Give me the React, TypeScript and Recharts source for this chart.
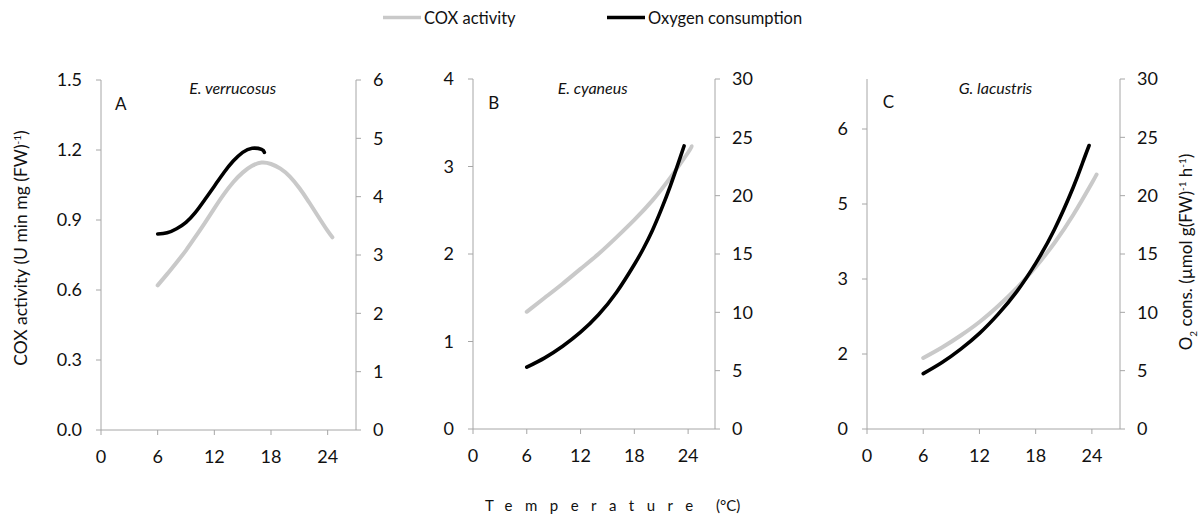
import { LineChart, Line, XAxis, YAxis } from 'recharts'

// Temperature (°C) and fitted values per species
const tempCoxA = [6, 7, 8, 9, 10, 11, 12, 13, 14, 15, 16, 17, 18, 19, 20, 21, 22, 23, 24, 24.5]
const coxA = [0.62, 0.668, 0.718, 0.77, 0.828, 0.888, 0.95, 1.01, 1.062, 1.103, 1.132, 1.146, 1.14, 1.12, 1.086, 1.037, 0.978, 0.915, 0.853, 0.826]
const tempO2A = [6, 7, 8, 9, 10, 11, 12, 13, 14, 15, 16, 17, 17.3]
const o2A = [3.36, 3.38, 3.45, 3.56, 3.73, 3.95, 4.18, 4.41, 4.61, 4.76, 4.83, 4.81, 4.76]

const tempCoxB = [6, 8, 10, 12, 14, 16, 18, 20, 22, 24, 24.4]
const coxB = [1.34, 1.5, 1.66, 1.83, 2.0, 2.19, 2.39, 2.61, 2.87, 3.16, 3.23]
const tempO2B = [6, 8, 10, 12, 14, 16, 18, 19, 20, 21, 22, 23, 23.55]
const o2B = [5.3, 6.1, 7.1, 8.3, 9.8, 11.7, 14.1, 15.45, 17.0, 18.8, 20.8, 23.0, 24.26]

const tempCoxC = [6, 8, 10, 12, 14, 16, 18, 20, 22, 24, 24.5]
const coxC = [1.42, 1.63, 1.87, 2.14, 2.46, 2.82, 3.24, 3.72, 4.28, 4.92, 5.09]
const tempO2C = [6, 8, 10, 12, 14, 16, 18, 20, 22, 23, 23.7]
const o2C = [4.75, 5.7, 6.85, 8.2, 9.85, 11.8, 14.2, 17.1, 20.7, 22.8, 24.3]

const tempTicks = [0, 6, 12, 18, 24]
const coxTicksA = [0, 0.3, 0.6, 0.9, 1.2, 1.5]
const coxTicksB = [0, 1, 2, 3, 4]
const coxTicksC = [0, 1.5, 3, 4.5, 6]
const o2TicksA = [0, 1, 2, 3, 4, 5, 6]
const o2TicksBC = [0, 5, 10, 15, 20, 25, 30]

const species = ['E. verrucosus', 'E. cyaneus', 'G. lacustris']
const panelLetters = ['A', 'B', 'C']

const toRows = (t: number[], v: number[]) => t.map((x, i) => ({ t: x, v: v[i] }))

const FONT = 'Lato, "Open Sans", sans-serif'
const AXIS = '#a6a6a6'
const GREY = '#c9c9c9'

interface PanelProps {
  left: number
  width: number
  margin: { top: number; right: number; bottom: number; left: number }
  leftW: number
  rightW: number
  cox: { t: number; v: number }[]
  o2: { t: number; v: number }[]
  coxDomain: [number, number]
  coxTicks: number[]
  coxFormat: (v: number) => string
  o2Domain: [number, number]
  o2Ticks: number[]
}

const tickStyle = { fill: '#111', fontSize: 18, fontFamily: FONT }

function Panel(p: PanelProps) {
  return (
    <div style={{ position: 'absolute', left: p.left, top: 0 }}>
      <LineChart width={p.width} height={517} margin={p.margin}>
        <XAxis
          dataKey="t"
          type="number"
          domain={[0, 27]}
          ticks={tempTicks}
          stroke={AXIS}
          tickSize={5}
          tickMargin={15}
          height={40}
          tick={tickStyle}
          allowDataOverflow
        />
        <YAxis
          yAxisId="cox"
          orientation="left"
          domain={p.coxDomain}
          ticks={p.coxTicks}
          tickFormatter={p.coxFormat}
          stroke={AXIS}
          tickSize={5}
          tickMargin={14}
          width={p.leftW}
          tick={tickStyle}
          interval={0}
          allowDataOverflow
        />
        <YAxis
          yAxisId="o2"
          orientation="right"
          domain={p.o2Domain}
          ticks={p.o2Ticks}
          stroke={AXIS}
          tickSize={5}
          tickMargin={12}
          width={p.rightW}
          tick={tickStyle}
          interval={0}
          allowDataOverflow
        />
        <Line
          data={p.cox}
          dataKey="v"
          yAxisId="cox"
          type="natural"
          stroke={GREY}
          strokeWidth={4}
          strokeLinecap="round"
          dot={false}
          activeDot={false}
          isAnimationActive={false}
        />
        <Line
          data={p.o2}
          dataKey="v"
          yAxisId="o2"
          type="natural"
          stroke="#000"
          strokeWidth={3.6}
          strokeLinecap="round"
          dot={false}
          activeDot={false}
          isAnimationActive={false}
        />
      </LineChart>
    </div>
  )
}

export default function App() {
  const titleX = [232.7, 592.7, 995.5]
  const letterX = [115, 488.3, 882.7]
  const letterY = [110, 109, 107.5]
  return (
    <div
      style={{
        position: 'absolute',
        left: 0,
        top: 0,
        width: 1203,
        height: 517,
        background: '#fff',
        fontFamily: FONT,
        overflow: 'hidden',
      }}
    >
      <Panel
        left={0}
        width={400}
        margin={{ top: 80, right: 0, bottom: 47, left: 41 }}
        leftW={60}
        rightW={44}
        cox={toRows(tempCoxA, coxA)}
        o2={toRows(tempO2A, o2A)}
        coxDomain={[0, 1.5]}
        coxTicks={coxTicksA}
        coxFormat={(v) => v.toFixed(1)}
        o2Domain={[0, 6]}
        o2Ticks={o2TicksA}
      />
      <Panel
        left={400}
        width={360}
        margin={{ top: 79, right: 0, bottom: 48, left: 23 }}
        leftW={50}
        rightW={45}
        cox={toRows(tempCoxB, coxB)}
        o2={toRows(tempO2B, o2B)}
        coxDomain={[0, 4]}
        coxTicks={coxTicksB}
        coxFormat={(v) => String(v)}
        o2Domain={[0, 30]}
        o2Ticks={o2TicksBC}
      />
      <Panel
        left={780}
        width={423}
        margin={{ top: 79, right: 32, bottom: 48, left: 37 }}
        leftW={50}
        rightW={51}
        cox={toRows(tempCoxC, coxC)}
        o2={toRows(tempO2C, o2C)}
        coxDomain={[0, 7]}
        coxTicks={coxTicksC}
        coxFormat={(v) => String(Math.round(v))}
        o2Domain={[0, 30]}
        o2Ticks={o2TicksBC}
      />

      <svg
        width={1203}
        height={517}
        style={{ position: 'absolute', left: 0, top: 0, pointerEvents: 'none' }}
        fontFamily={FONT}
      >
        {/* legend */}
        <line x1={383} x2={421} y1={17.5} y2={17.5} stroke={GREY} strokeWidth={3.5} />
        <text x={424} y={24} fontSize={16.5} fill="#111">COX activity</text>
        <line x1={607} x2={645} y1={17.5} y2={17.5} stroke="#000" strokeWidth={3.5} />
        <text x={648} y={24} fontSize={16.5} fill="#111">Oxygen consumption</text>

        {species.map((s, i) => (
          <text key={s} x={titleX[i]} y={94} fontSize={16} fontStyle="italic" textAnchor="middle" fill="#111">
            {s}
          </text>
        ))}
        {panelLetters.map((l, i) => (
          <text key={l} x={letterX[i]} y={letterY[i]} fontSize={17} fill="#111">
            {l}
          </text>
        ))}

        <text transform="translate(27,248) rotate(-90)" textAnchor="middle" fontSize={17.5} fill="#111">
          COX activity (U min mg (FW)
          <tspan dy={-6} fontSize={10}>-1</tspan>
          <tspan dy={6}>)</tspan>
        </text>

        <text transform="translate(1192,252) rotate(-90)" textAnchor="middle" fontSize={17} fill="#111">
          O<tspan dy={5} fontSize={10}>2</tspan>
          <tspan dy={-5}> cons. (µmol g(FW)</tspan>
          <tspan dy={-6} fontSize={10}>-1</tspan>
          <tspan dy={6}> h</tspan>
          <tspan dy={-6} fontSize={10}>-1</tspan>
          <tspan dy={6}>)</tspan>
        </text>

        <text y={511} fontSize={15} fill="#111">
          <tspan x={485} letterSpacing={12.5}>Temperature</tspan>
          <tspan x={716}>(°C)</tspan>
        </text>
      </svg>
    </div>
  )
}
